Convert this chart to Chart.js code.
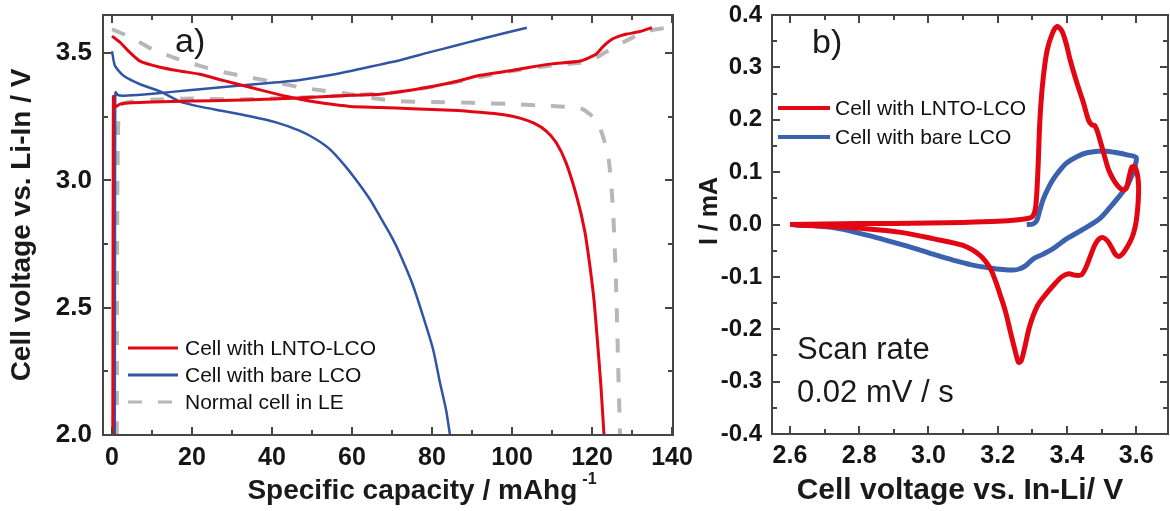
<!DOCTYPE html>
<html>
<head>
<meta charset="utf-8">
<script src="https://cdn.jsdelivr.net/npm/chart.js@4.4.1/dist/chart.umd.min.js"></script>
<style>
  html, body { margin: 0; padding: 0; background: #fff; }
  #wrap { position: relative; width: 1170px; height: 511px; overflow: hidden; }
  .panel { position: absolute; top: 0; }
  #panelA { left: 0; }
  #panelB { left: 698px; }
</style>
</head>
<body>
<div id="wrap">
  <div class="panel" id="panelA"><canvas id="chartA" width="705" height="511"></canvas></div>
  <div class="panel" id="panelB"><canvas id="chartB" width="472" height="511"></canvas></div>
</div>
<script>
// ---- panel a: galvanostatic charge / discharge ----
const capTicks = [0, 20, 40, 60, 80, 100, 120, 140];
const voltTicks = [2.0, 2.5, 3.0, 3.5];

const lntoChargeCap = [0.2, 0.25, 0.3, 0.35, 0.5, 0.9, 2, 5, 10, 20, 30, 40, 50, 60, 67, 75, 85, 92, 100, 104.5, 110, 117, 121, 123, 125, 127, 128.7, 132, 135];
const lntoChargeV   = [2.0, 2.6, 3.1, 3.33, 3.31, 3.29, 3.30, 3.305, 3.308, 3.312, 3.315, 3.32, 3.327, 3.335, 3.339, 3.355, 3.385, 3.413, 3.432, 3.445, 3.458, 3.469, 3.496, 3.53, 3.555, 3.568, 3.575, 3.585, 3.60];
const lntoDischCap  = [0, 1, 2, 4, 7, 12, 17, 22, 28, 34.5, 41, 47, 53, 59.5, 67, 75, 85, 92, 98, 102, 105.5, 108.5, 111, 113.5, 116.3, 118.2, 119.5, 120.5, 121.2, 122.2, 123];
const lntoDischV    = [3.567, 3.555, 3.543, 3.51, 3.469, 3.445, 3.43, 3.417, 3.392, 3.366, 3.34, 3.319, 3.303, 3.291, 3.287, 3.282, 3.276, 3.268, 3.258, 3.245, 3.225, 3.195, 3.15, 3.07, 2.93, 2.8, 2.661, 2.53, 2.4, 2.2, 2.0];

const bareChargeCap = [0.7, 0.75, 0.8, 0.9, 1.5, 3, 8, 15, 22, 30, 40, 47, 55, 62, 67, 72, 79.5, 86, 92, 98, 103.7];
const bareChargeV   = [2.0, 2.8, 3.3, 3.346, 3.335, 3.333, 3.338, 3.348, 3.358, 3.37, 3.384, 3.395, 3.415, 3.438, 3.455, 3.472, 3.504, 3.53, 3.555, 3.578, 3.60];
const bareDischCap  = [0, 0.75, 3, 7, 12, 17, 22, 28, 34.5, 41, 47, 51, 54.5, 58, 61.5, 64.5, 67, 69.5, 71.5, 75, 77.8, 80.3, 82, 83.5, 84.5];
const bareDischV    = [3.508, 3.45, 3.41, 3.378, 3.35, 3.31, 3.29, 3.272, 3.252, 3.228, 3.195, 3.162, 3.122, 3.062, 2.992, 2.925, 2.858, 2.79, 2.728, 2.598, 2.465, 2.335, 2.205, 2.1, 2.0];

const leChargeCap = [1.2, 1.3, 1.5, 1.8, 2.5, 5, 10, 20, 30, 40, 50, 60, 70, 80, 90, 100, 110, 117, 120.3, 124, 127.8, 133, 136, 138.7];
const leChargeV   = [2.0, 2.8, 3.2, 3.27, 3.3, 3.31, 3.317, 3.322, 3.318, 3.322, 3.328, 3.335, 3.345, 3.368, 3.40, 3.43, 3.452, 3.462, 3.476, 3.51, 3.543, 3.582, 3.594, 3.60];
const leDischCap  = [0, 5, 10, 16, 22, 28, 34.5, 41, 47, 53, 59.5, 66, 72, 80, 90, 100, 107, 113, 117, 119.5, 121.5, 123, 124.2, 125.2, 126, 126.5, 127];
const leDischV    = [3.594, 3.56, 3.516, 3.48, 3.45, 3.425, 3.405, 3.385, 3.366, 3.352, 3.339, 3.322, 3.311, 3.308, 3.305, 3.30, 3.295, 3.29, 3.285, 3.26, 3.225, 3.16, 3.08, 2.9, 2.6, 2.3, 2.0];

// ---- panel b: cyclic voltammetry ----
const cvVoltTicks = [2.6, 2.8, 3.0, 3.2, 3.4, 3.6];
const cvCurrTicks = [-0.4, -0.3, -0.2, -0.1, 0.0, 0.1, 0.2, 0.3, 0.4];

const lntoCvV = [2.60, 2.70, 2.80, 2.90, 3.00, 3.10, 3.20, 3.26, 3.29, 3.302, 3.310, 3.316, 3.322, 3.330, 3.342, 3.358, 3.372, 3.385, 3.398, 3.409, 3.428, 3.447, 3.462, 3.472, 3.480, 3.488, 3.496, 3.508, 3.520, 3.535, 3.549, 3.562, 3.572, 3.580, 3.588, 3.596, 3.603, 3.607, 3.606, 3.602, 3.597, 3.588, 3.575, 3.562, 3.550, 3.540, 3.530, 3.518, 3.505, 3.492, 3.480, 3.468, 3.455, 3.442, 3.425, 3.405, 3.385, 3.360, 3.331, 3.315, 3.302, 3.290, 3.278, 3.268, 3.260, 3.250, 3.236, 3.222, 3.207, 3.192, 3.178, 3.149, 3.100, 3.013, 2.920, 2.820, 2.720, 2.620];
const lntoCvI = [0.000, 0.001, 0.002, 0.002, 0.003, 0.004, 0.006, 0.009, 0.012, 0.016, 0.035, 0.10, 0.20, 0.27, 0.33, 0.365, 0.378, 0.37, 0.345, 0.315, 0.272, 0.234, 0.200, 0.190, 0.189, 0.178, 0.160, 0.132, 0.105, 0.085, 0.072, 0.066, 0.070, 0.092, 0.110, 0.110, 0.098, 0.075, 0.045, 0.015, -0.005, -0.025, -0.042, -0.055, -0.061, -0.057, -0.045, -0.032, -0.025, -0.028, -0.040, -0.060, -0.082, -0.096, -0.097, -0.094, -0.100, -0.117, -0.140, -0.155, -0.175, -0.200, -0.235, -0.260, -0.263, -0.240, -0.203, -0.165, -0.134, -0.105, -0.083, -0.059, -0.040, -0.027, -0.015, -0.008, -0.004, -0.001];

const bareCvV = [3.284, 3.302, 3.313, 3.322, 3.332, 3.345, 3.361, 3.380, 3.400, 3.430, 3.458, 3.490, 3.516, 3.545, 3.574, 3.600, 3.598, 3.592, 3.584, 3.575, 3.554, 3.525, 3.496, 3.450, 3.400, 3.360, 3.330, 3.302, 3.280, 3.262, 3.246, 3.215, 3.178, 3.125, 3.071, 3.020, 2.967, 2.910, 2.850, 2.790, 2.725, 2.665, 2.610];
const bareCvI = [0.000, 0.001, 0.008, 0.028, 0.049, 0.068, 0.087, 0.104, 0.118, 0.130, 0.137, 0.140, 0.140, 0.137, 0.133, 0.128, 0.115, 0.100, 0.088, 0.075, 0.056, 0.033, 0.012, -0.008, -0.027, -0.046, -0.057, -0.066, -0.079, -0.085, -0.087, -0.086, -0.083, -0.077, -0.068, -0.058, -0.047, -0.036, -0.025, -0.015, -0.006, -0.002, -0.001];

const RED = '#e30613';
const BLUE = '#2f55a4';
const BLUE_B = '#3b62ae';
const GREY = '#b7b7b7';
const FONT = "'Liberation Sans', Arial, Helvetica, sans-serif";

const pts = (xs, ys) => xs.map((x, i) => ({ x: x, y: ys[i] }));
const mids = arr => arr.slice(1).map((v, i) => (v + arr[i]) / 2);

// box round the plot with inward ticks on all four sides
const frameTicks = {
  id: 'frameTicks',
  afterDraw(chart, args, opts) {
    const { ctx, chartArea: a } = chart;
    const sx = chart.scales.x, sy = chart.scales.y;
    ctx.save();
    ctx.strokeStyle = '#454545';
    ctx.lineWidth = 2;
    const seg = (x1, y1, x2, y2) => { ctx.beginPath(); ctx.moveTo(x1, y1); ctx.lineTo(x2, y2); ctx.stroke(); };
    const doX = (vals, len) => vals.forEach(v => {
      const p = Math.round(sx.getPixelForValue(v));
      seg(p, a.bottom, p, a.bottom - len);
      seg(p, a.top, p, a.top + len);
    });
    const doY = (vals, len) => vals.forEach(v => {
      const p = Math.round(sy.getPixelForValue(v));
      seg(a.left, p, a.left + len, p);
      seg(a.right, p, a.right - len, p);
    });
    doX(opts.xMajor, 8); doX(mids(opts.xMajor), 5);
    doY(opts.yMajor, 8); doY(mids(opts.yMajor), 5);
    ctx.strokeRect(a.left, a.top, a.right - a.left, a.bottom - a.top);
    ctx.restore();
  }
};

// legend drawn inside the plot
const innerLegend = {
  id: 'innerLegend',
  afterDatasetsDraw(chart, args, opts) {
    const ctx = chart.ctx;
    let y = opts.y;
    ctx.save();
    ctx.font = opts.font;
    ctx.fillStyle = '#111';
    ctx.textBaseline = 'middle';
    chart.data.datasets.filter(d => d.inLegend).forEach(d => {
      ctx.strokeStyle = d.borderColor;
      ctx.lineWidth = opts.lineWidth || d.borderWidth;
      ctx.setLineDash(d.borderDash || []);
      ctx.beginPath();
      ctx.moveTo(opts.x, y);
      ctx.lineTo(opts.x + opts.len, y);
      ctx.stroke();
      ctx.setLineDash([]);
      ctx.fillText(d.label, opts.x + opts.len + opts.gap, y + 1);
      y += opts.step;
    });
    ctx.restore();
  }
};

// axis titles and annotations
const captions = {
  id: 'captions',
  afterDraw(chart, args, opts) {
    const ctx = chart.ctx;
    opts.items.forEach(it => {
      ctx.save();
      ctx.fillStyle = it.color || '#1a1a1a';
      ctx.textBaseline = 'middle';
      ctx.translate(it.x, it.y);
      if (it.rotate) ctx.rotate(it.rotate);
      ctx.font = it.font;
      const w = ctx.measureText(it.text).width;
      let supW = 0;
      if (it.sup) { ctx.font = it.supFont; supW = ctx.measureText(it.sup).width + 5; ctx.font = it.font; }
      const x0 = it.align === 'center' ? -(w + supW) / 2 : 0;
      ctx.textAlign = 'left';
      ctx.fillText(it.text, x0, 0);
      if (it.sup) { ctx.font = it.supFont; ctx.fillText(it.sup, x0 + w + 5, it.supDy); }
      ctx.restore();
    });
  }
};

function lineSet(label, xs, ys, color, width, extra) {
  return Object.assign({
    label: label, data: pts(xs, ys), borderColor: color, backgroundColor: color,
    borderWidth: width, showLine: true, pointRadius: 0, pointHoverRadius: 0,
    fill: false, tension: 0.2, borderJoinStyle: 'round', borderCapStyle: 'butt'
  }, extra || {});
}

function axis(min, max, tickVals, fmt, fontSize, pad, fixed) {
  return {
    type: 'linear', min: min, max: max,
    grid: { display: false, drawTicks: false },
    border: { display: false },
    afterBuildTicks: s => { s.ticks = tickVals.map(v => ({ value: v })); },
    afterFit: s => {
      if (fixed.width !== undefined) s.width = fixed.width;
      if (fixed.height !== undefined) s.height = fixed.height;
      s.paddingLeft = 0; s.paddingRight = 0; s.paddingTop = 0; s.paddingBottom = 0;
    },
    ticks: {
      autoSkip: false, maxRotation: 0, minRotation: 0, includeBounds: false,
      padding: pad, color: '#151515',
      font: { family: FONT, size: fontSize, weight: 'bold' },
      callback: fmt
    }
  };
}

new Chart(document.getElementById('chartA'), {
  type: 'scatter',
  data: {
    datasets: [
      lineSet('Cell with LNTO-LCO', lntoChargeCap, lntoChargeV, RED, 3, { inLegend: true }),
      lineSet('Cell with LNTO-LCO', lntoDischCap, lntoDischV, RED, 3),
      lineSet('Cell with bare LCO', bareChargeCap, bareChargeV, BLUE, 2.5, { inLegend: true }),
      lineSet('Cell with bare LCO', bareDischCap, bareDischV, BLUE, 2.5),
      lineSet('Normal cell in LE', leChargeCap, leChargeV, GREY, 4, { inLegend: true, borderDash: [14, 16] }),
      lineSet('Normal cell in LE', leDischCap, leDischV, GREY, 4, { borderDash: [14, 16] })
    ]
  },
  options: {
    responsive: false,
    animation: false,
    events: [],
    layout: { padding: { left: 0, right: 32, top: 15, bottom: 0 } },
    scales: {
      x: axis(-2.25, 140.25, capTicks, v => String(v), 25, 8, { height: 76 }),
      y: axis(2.0, 3.65, voltTicks, v => v.toFixed(1), 26, 11, { width: 103 })
    },
    plugins: {
      legend: { display: false },
      tooltip: { enabled: false },
      frameTicks: { xMajor: capTicks, yMajor: voltTicks },
      innerLegend: { x: 128, len: 50, gap: 7, y: 348, step: 27, lineWidth: 3, font: '21px ' + FONT },
      captions: {
        items: [
          { text: 'a)', x: 175, y: 43, font: '34px ' + FONT },
          { text: 'Specific capacity / mAhg', sup: '-1', x: 422, y: 491, align: 'center',
            font: 'bold 28px ' + FONT, supFont: 'bold 16px ' + FONT, supDy: -11 },
          { text: 'Cell voltage vs. Li-In / V', x: 22, y: 225, align: 'center', rotate: -Math.PI / 2,
            font: 'bold 28px ' + FONT }
        ]
      }
    }
  },
  plugins: [frameTicks, innerLegend, captions]
});

new Chart(document.getElementById('chartB'), {
  type: 'scatter',
  data: {
    datasets: [
      lineSet('Cell with LNTO-LCO', lntoCvV, lntoCvI, RED, 5, { inLegend: true, tension: 0.3 }),
      lineSet('Cell with bare LCO', bareCvV, bareCvI, BLUE_B, 5, { inLegend: true, tension: 0.3 })
    ]
  },
  options: {
    responsive: false,
    animation: false,
    events: [],
    layout: { padding: { left: 0, right: 2, top: 15, bottom: 0 } },
    scales: {
      x: axis(2.548, 3.692, cvVoltTicks, v => v.toFixed(1), 25, 7, { height: 77 }),
      y: axis(-0.4, 0.4, cvCurrTicks, v => v.toFixed(1), 24, 10, { width: 74 })
    },
    plugins: {
      legend: { display: false },
      tooltip: { enabled: false },
      frameTicks: { xMajor: cvVoltTicks, yMajor: cvCurrTicks },
      innerLegend: { x: 80, len: 52, gap: 5, y: 108, step: 29, lineWidth: 4, font: '21px ' + FONT },
      captions: {
        items: [
          { text: 'b)', x: 114, y: 44, font: '34px ' + FONT },
          { text: 'Scan rate', x: 99, y: 350, font: '31px ' + FONT },
          { text: '0.02 mV / s', x: 99, y: 393, font: '31px ' + FONT },
          { text: 'Cell voltage vs. In-Li/ V', x: 262, y: 491, align: 'center', font: 'bold 30px ' + FONT },
          { text: 'I / mA', x: 12, y: 211, align: 'center', rotate: -Math.PI / 2, font: 'bold 25px ' + FONT }
        ]
      }
    }
  },
  plugins: [frameTicks, innerLegend, captions]
});
</script>
</body>
</html>
